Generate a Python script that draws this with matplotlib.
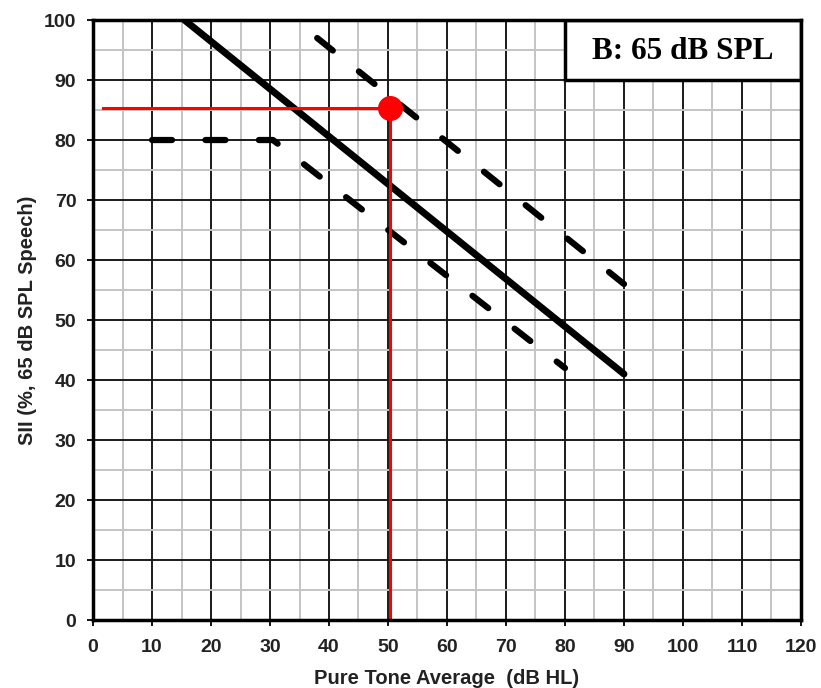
import numpy as np
import matplotlib.pyplot as plt
from matplotlib.patches import Rectangle

# lines (x = PTA dB HL, y = SII %)
mid_x = [15.5, 90]
mid_y = [100, 41]
upper_x = [38, 90]
upper_y = [97, 56]
lower_x = [10, 30.5, 80]
lower_y = [80, 80, 42]
point_x = 50.3
point_y = 85.3
red_start_x = 1.7

box_text = 'B: 65 dB SPL'
xlabel = 'Pure Tone Average  (dB HL)'
ylabel = 'SII (%, 65 dB SPL Speech)'

plt.rcParams['font.family'] = ['Liberation Sans', 'DejaVu Sans']

fig = plt.figure(figsize=(8.21, 6.88), dpi=100)
ax = fig.add_axes([0.1133, 0.0988, 0.8623, 0.8721])
ax.set_xlim(0, 120)
ax.set_ylim(0, 100)

ax.set_xticks(np.arange(0, 121, 10))
ax.set_yticks(np.arange(0, 101, 10))
ax.set_xticks(np.arange(5, 120, 10), minor=True)
ax.set_yticks(np.arange(5, 100, 10), minor=True)
ax.grid(which='major', color='#1a1a1a', lw=1.4, zorder=1)
ax.grid(which='minor', color='#c4c4c4', lw=1.4, zorder=0)
ax.tick_params(which='major', direction='out', length=4, width=1.3, labelsize=14, pad=8)
ax.tick_params(axis='x', which='major', pad=10)
ax.tick_params(which='minor', length=0)
for lab in ax.get_xticklabels() + ax.get_yticklabels():
    lab.set_fontweight('bold')
    lab.set_color('#222222')
for s in ax.spines.values():
    s.set_linewidth(2.5)
    s.set_zorder(5)

dash = (0, (3.2, 5.35))
ax.plot(mid_x, mid_y, color='black', lw=5, solid_capstyle='round', zorder=3)
ax.plot(upper_x, upper_y, color='black', lw=4.5, linestyle=dash,
        dash_capstyle='round', zorder=3)
ax.plot(lower_x, lower_y, color='black', lw=4.5, linestyle=dash,
        dash_capstyle='round', dash_joinstyle='round', zorder=3)

ax.plot([red_start_x, point_x], [point_y, point_y], color='#ff0000', lw=2.2, zorder=4)
ax.plot([point_x, point_x], [0, point_y], color='#ff0000', lw=2.2, zorder=4)
ax.plot(point_x, point_y, 'o', color='#ff0000', ms=17, zorder=4)

ax.add_patch(Rectangle((80, 90), 40, 10, facecolor='white', edgecolor='black',
                       lw=2.5, zorder=4))
ax.text(100, 94.8, box_text, ha='center', va='center', fontsize=22.5,
        fontweight='bold', family='Liberation Serif', zorder=6)

ax.set_xlabel(xlabel, fontsize=14.5, fontweight='bold', color='#222222', labelpad=9)
ax.set_ylabel(ylabel, fontsize=14.5, fontweight='bold', color='#222222', labelpad=5)

fig.savefig('out.png', dpi=100)
